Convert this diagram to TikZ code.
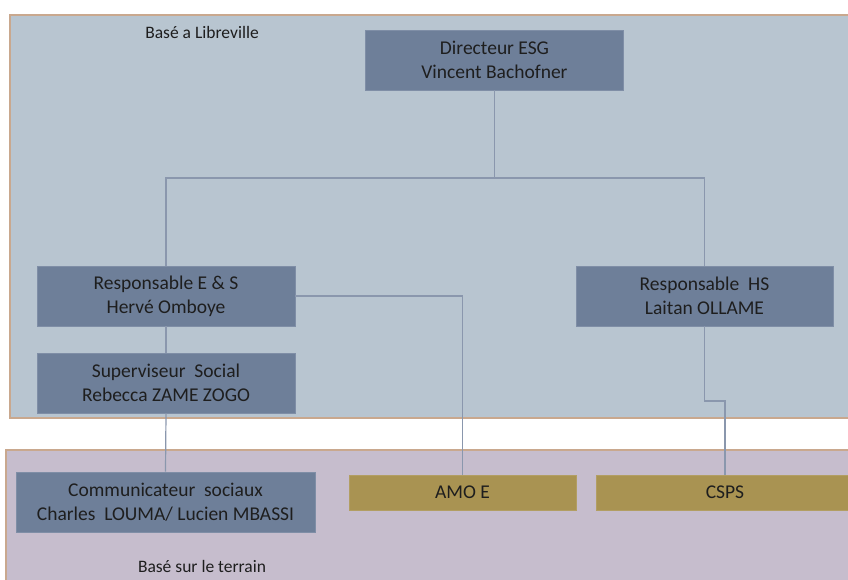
\documentclass[tikz,border=0pt]{standalone}
\usepackage{fontspec}
\setmainfont{Carlito}
\usetikzlibrary{calc,positioning}
\definecolor{zonehaut}{HTML}{B8C5D0}
\definecolor{zonebas}{HTML}{C6BDCD}
\definecolor{bordzone}{HTML}{C9A88E}
\definecolor{poste}{HTML}{6E7F99}
\definecolor{bordposte}{HTML}{7F8EA6}
\definecolor{externe}{HTML}{A99352}
\definecolor{lien}{HTML}{8A97AD}
\definecolor{texte}{HTML}{1E1E1E}
\tikzset{
	postebox/.style={fill=poste,draw=bordposte,line width=0.8pt,text=texte,align=center,
		font=\fontsize{19.5}{24}\selectfont,inner sep=0pt},
	extbox/.style={fill=externe,draw=externe!90!white,line width=0.8pt,text=texte,align=center,
		font=\fontsize{19.5}{24}\selectfont,inner sep=0pt,minimum height=35pt},
	lienhier/.style={draw=lien,line width=1.2pt},
	zone/.style={draw=bordzone,line width=2pt}
}

\begin{document}
\begin{tikzpicture}[x=1pt,y=-1pt]
		\useasboundingbox (0,0) rectangle (848,579);
		\clip (0,0) rectangle (848,579);
		% zones
		\draw[zone,fill=zonehaut] (10,15) rectangle (860,418);
		\draw[zone,fill=zonebas] (6,450) rectangle (860,590);
		\node[text=texte,font=\fontsize{17.5}{20}\selectfont] (libreville) at (202,32) {Basé a Libreville};
		\node[text=texte,font=\fontsize{17.5}{20}\selectfont] (terrain) at (202,566) {Basé sur le terrain};
		
		% postes
		\node[postebox,minimum width=258pt,minimum height=60pt] (dir) at (494.5,60) {Directeur ESG\\Vincent Bachofner};
		\node[postebox,minimum width=258pt,minimum height=60pt] (resES) at (166,296) {Responsable E \& S\\Hervé Omboye};
		\node[postebox,minimum width=257pt,minimum height=60pt] (resHS) at (704.5,296) {Responsable~ HS\\Laitan OLLAME};
		\node[postebox,minimum width=258pt,minimum height=60pt] (sup) at (166,383) {Superviseur~ Social\\Rebecca ZAME ZOGO};
		\node[postebox,minimum width=299pt,minimum height=60pt] (com) at (165.5,502) {Communicateur~ sociaux\\Charles~ LOUMA/ Lucien MBASSI};
		\node[extbox,minimum width=227pt] (amo) at (462.5,492.5) {AMO E};
		\node[extbox,minimum width=258pt] (csps) at (725,492.5) {CSPS};
		
		% liens
		\coordinate (nd) at (494.5,178);
		\draw[lienhier] (dir.south) -- (nd);
		\draw[lienhier] (resES.north) |- (nd) -| (resHS.north);
		\draw[lienhier] (resES.east) -| (amo.north);
		\draw[lienhier] (resES.south) -- (sup.north);
		\draw[lienhier] (sup.south) -- (com.north);
		\coordinate (jog) at (704.5,401);
		\draw[lienhier] (resHS.south) -- (jog) -| (csps.north);
\end{tikzpicture}
\end{document}
